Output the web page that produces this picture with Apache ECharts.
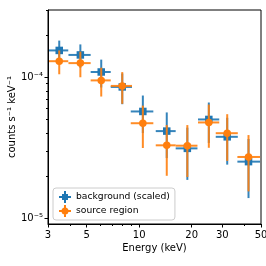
<!DOCTYPE html>
<html><head><meta charset="utf-8">
<script src="https://cdn.jsdelivr.net/npm/echarts@6/dist/echarts.min.js"></script>
<style>html,body{margin:0;padding:0;background:#fff}#c{width:266px;height:266px}</style>
</head><body><div id="c"></div>
<script>
const energy = [3.48, 4.6, 6.06, 8.0, 10.5, 14.4, 18.9, 25.1, 32.0, 42.4];
const eLow   = [3.04, 3.93, 5.27, 6.87, 8.95, 12.45, 16.2, 21.75, 27.5, 36.6];
const eHigh  = [3.92, 5.27, 6.87, 9.1, 12.06, 16.2, 21.6, 28.8, 36.8, 49.4];
const bgRate = [1.55e-4, 1.44e-4, 1.09e-4, 8.54e-5, 5.72e-5, 4.15e-5, 3.13e-5, 5.02e-5, 3.78e-5, 2.52e-5];
const bgErr  = [2.7e-5, 2.7e-5, 2.44e-5, 2.1e-5, 1.7e-5, 1.48e-5, 1.26e-5, 1.6e-5, 1.38e-5, 1.13e-5];
const srcRate = [1.30e-4, 1.26e-4, 9.5e-5, 8.68e-5, 4.72e-5, 3.29e-5, 3.27e-5, 4.78e-5, 4.01e-5, 2.72e-5];
const srcErr  = [2.5e-5, 2.6e-5, 2.2e-5, 2.2e-5, 1.57e-5, 1.29e-5, 1.31e-5, 1.62e-5, 1.46e-5, 1.17e-5];
const xTickLabels = [3, 5, 10, 20, 30, 50];
const xMinorTicks = [4, 6, 7, 8, 9, 40];
const yTickLabels = [1e-5, 1e-4];
const yMinorTicks = [2e-5, 3e-5, 4e-5, 5e-5, 6e-5, 7e-5, 8e-5, 9e-5, 2e-4, 3e-4];
const seriesNames = ['background (scaled)', 'source region'];

const BLUE = '#1f77b4', ORANGE = '#ff7f0e';
const FONT = 'DejaVu Sans';

function errData(rate, err) {
  return energy.map((e, i) => [e, rate[i], eLow[i], eHigh[i], rate[i] - err[i], rate[i] + err[i]]);
}
function errRender(color) {
  return function (params, api) {
    const x = api.value(0), y = api.value(1);
    const pL = api.coord([api.value(2), y]), pR = api.coord([api.value(3), y]);
    const pT = api.coord([x, api.value(5)]), pB = api.coord([x, api.value(4)]);
    return { type: 'group', children: [
      { type: 'line', shape: { x1: pL[0], y1: pL[1], x2: pR[0], y2: pR[1] }, style: { stroke: color, lineWidth: 2, opacity: 0.9 } },
      { type: 'line', shape: { x1: pT[0], y1: pT[1], x2: pB[0], y2: pB[1] }, style: { stroke: color, lineWidth: 2, opacity: 0.9 } }
    ]};
  };
}
const sup = { '0': '⁰', '1': '¹', '2': '²', '3': '³', '4': '⁴', '5': '⁵', '6': '⁶', '7': '⁷', '8': '⁸', '9': '⁹' };
function yFmt(v) {
  const p = Math.round(Math.log10(v));
  return '10' + (p < 0 ? '⁻' : '') + String(Math.abs(p)).split('').map(c => sup[c]).join('');
}

const plusSquare = 'path://M0,5H12V7H0Z M5,0H7V12H5Z M3,3H9V9H3Z';
const plusCircle = 'path://M0,5H12V7H0Z M5,0H7V12H5Z M2.5,6A3.5,3.5 0 1 1 9.5,6A3.5,3.5 0 1 1 2.5,6Z';

const chart = echarts.init(document.getElementById('c'), null, { renderer: 'canvas' });
const axCommon = { type: 'log', logBase: 10, splitLine: { show: false } };
chart.setOption({
  animation: false,
  textStyle: { fontFamily: FONT },
  grid: { left: 48, right: 5, top: 10, bottom: 42, containLabel: false, outerBoundsMode: 'none',
    show: true, borderColor: '#000', borderWidth: 1, backgroundColor: 'transparent' },
  xAxis: [
    Object.assign({}, axCommon, {
      min: 3, max: 50, name: 'Energy (keV)', nameLocation: 'middle', nameGap: 19, nameMoveOverlap: false,
      nameTextStyle: { fontFamily: FONT, fontSize: 10, color: '#000' },
      axisLine: { show: true, lineStyle: { color: '#000', width: 1 } },
      axisTick: { show: true, length: 3.5, lineStyle: { color: '#000' }, customValues: xTickLabels },
      axisLabel: { show: true, margin: 6, fontSize: 10, color: '#000', fontFamily: FONT, customValues: xTickLabels,
        formatter: v => String(Math.round(v)) }
    }),
    Object.assign({}, axCommon, {
      min: 3, max: 50, gridIndex: 0, position: 'bottom',
      axisLine: { show: false }, axisLabel: { show: false },
      axisTick: { show: true, length: 2, lineStyle: { color: '#000' }, customValues: xMinorTicks }
    })
  ],
  yAxis: [
    Object.assign({}, axCommon, {
      min: 9.1e-6, max: 3.0e-4, name: 'counts s⁻¹ keV⁻¹', nameLocation: 'middle', nameGap: 31, nameRotate: 90,
      nameMoveOverlap: false,
      nameTextStyle: { fontFamily: FONT, fontSize: 10, color: '#000' },
      axisLine: { show: true, lineStyle: { color: '#000', width: 1 } },
      axisTick: { show: true, length: 3.5, lineStyle: { color: '#000' }, customValues: yTickLabels },
      axisLabel: { show: true, margin: 5, fontSize: 10, color: '#000', fontFamily: FONT, customValues: yTickLabels,
        formatter: yFmt }
    }),
    Object.assign({}, axCommon, {
      min: 9.1e-6, max: 3.0e-4, gridIndex: 0, position: 'left',
      axisLine: { show: false }, axisLabel: { show: false },
      axisTick: { show: true, length: 2, lineStyle: { color: '#000' }, customValues: yMinorTicks }
    })
  ],
  legend: {
    orient: 'vertical', left: 53, top: 188,
    padding: [3, 5, 3, 6], itemGap: 2, itemWidth: 12, itemHeight: 12,
    backgroundColor: 'rgba(255,255,255,0.8)', borderColor: '#ccc', borderWidth: 1, borderRadius: 3,
    textStyle: { fontFamily: FONT, fontSize: 9.2, color: '#000' },
    data: [
      { name: seriesNames[0], icon: plusSquare, itemStyle: { color: BLUE } },
      { name: seriesNames[1], icon: plusCircle, itemStyle: { color: ORANGE } }
    ]
  },
  series: [
    { type: 'custom', name: 'bgErr', renderItem: errRender(BLUE), data: errData(bgRate, bgErr),
      encode: { x: [0, 2, 3], y: [1, 4, 5] }, silent: true, z: 1 },
    { type: 'scatter', name: seriesNames[0], symbol: 'rect', symbolSize: 7.5,
      itemStyle: { color: BLUE, opacity: 1 }, data: energy.map((e, i) => [e, bgRate[i]]), z: 2 },
    { type: 'custom', name: 'srcErr', renderItem: errRender(ORANGE), data: errData(srcRate, srcErr),
      encode: { x: [0, 2, 3], y: [1, 4, 5] }, silent: true, z: 3 },
    { type: 'scatter', name: seriesNames[1], symbol: 'circle', symbolSize: 7.5,
      itemStyle: { color: ORANGE, opacity: 1 }, data: energy.map((e, i) => [e, srcRate[i]]), z: 4 }
  ]
});
</script></body></html>
